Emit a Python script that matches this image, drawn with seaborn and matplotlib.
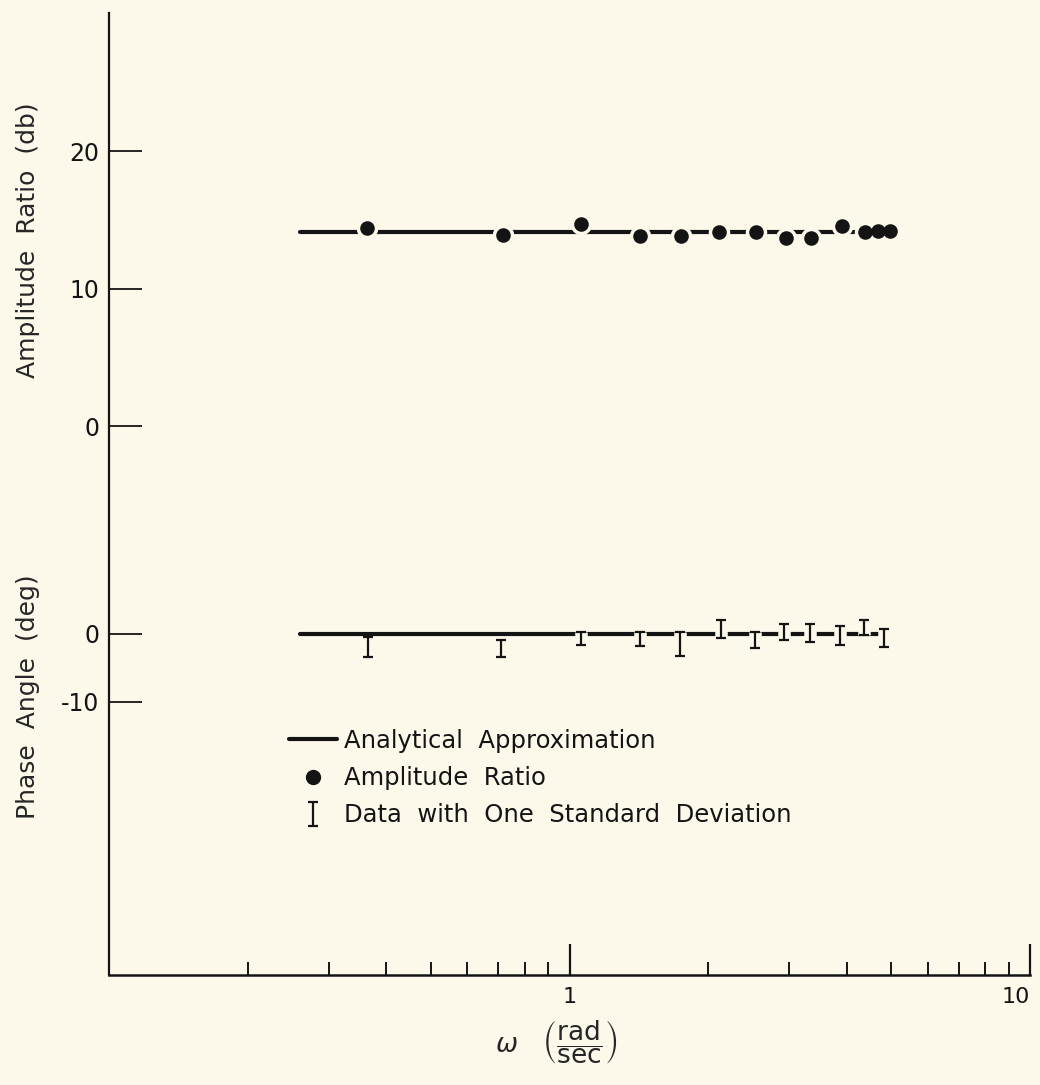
import numpy as np
import pandas as pd
import matplotlib
matplotlib.use("Agg")
import matplotlib.pyplot as plt
from matplotlib.lines import Line2D
from matplotlib.ticker import FixedLocator, FixedFormatter, NullFormatter
import seaborn as sns

# ---- measured frequency response -------------------------------------
amp_freq = [0.364, 0.716, 1.061, 1.425, 1.747, 2.112, 2.540, 2.949, 3.341,
            3.898, 4.372, 4.665, 4.977]
amp_db = [14.4, 13.9, 14.7, 13.8, 13.85, 14.1, 14.1, 13.65, 13.65,
          14.55, 14.1, 14.15, 14.15]

phase_freq = [0.365, 0.709, 1.061, 1.425, 1.739, 2.133, 2.527, 2.920, 3.324,
              3.860, 4.350, 4.830]
phase_deg = [-1.9, -2.1, -0.65, -0.7, -1.45, 0.75, -0.9, 0.3, 0.15,
             -0.2, 0.95, -0.6]
phase_sd = [1.47, 1.25, 0.95, 1.0, 1.75, 1.3, 1.2, 1.2, 1.3,
            1.4, 1.1, 1.3]

# analytical approximation (flat gain, zero phase)
approx_freq = [0.26, 4.8]
approx_db = [14.1, 14.1]
approx_deg = [0.0, 0.0]

x_major = [1, 10]
x_major_labels = ["1", "10"]
x_minor = [0.2, 0.3, 0.4, 0.5, 0.6, 0.7, 0.8, 0.9, 2, 3, 4, 5, 6, 7, 8, 9]
amp_ticks = [0, 10, 20]
amp_tick_labels = ["0", "10", "20"]
phase_ticks = [-10, 0]
phase_tick_labels = ["-10", "0"]

amp_df = pd.DataFrame({"freq": amp_freq, "db": amp_db})
approx_df = pd.DataFrame({"freq": approx_freq, "db": approx_db, "deg": approx_deg})

# ---- style -----------------------------------------------------------
BG = "#fcf9ea"
INK = "#141414"

sns.set_theme(style="ticks")
plt.rcParams["font.family"] = ["DejaVu Sans"]
plt.rcParams["mathtext.fontset"] = "dejavusans"
plt.rcParams["axes.edgecolor"] = INK
plt.rcParams["xtick.color"] = INK
plt.rcParams["ytick.color"] = INK
plt.rcParams["text.color"] = INK

fig = plt.figure(figsize=(10.4, 10.85), dpi=100, facecolor=BG)
ax = fig.add_axes([0.1048, 0.1014, 0.8856, 0.8866])
ax.set_facecolor(BG)
ax2 = ax.twinx()
ax2.patch.set_visible(False)

# ---- amplitude ratio -------------------------------------------------
sns.lineplot(data=approx_df, x="freq", y="db", ax=ax, color=INK,
             linewidth=3.0, zorder=2, legend=False)
# background halo so the curve breaks around each point
sns.scatterplot(data=amp_df, x="freq", y="db", ax=ax, color=BG, s=240,
                linewidth=0, zorder=3, legend=False)
sns.scatterplot(data=amp_df, x="freq", y="db", ax=ax, color=INK, s=110,
                linewidth=0, zorder=4, legend=False)

# ---- phase angle -----------------------------------------------------
sns.lineplot(data=approx_df, x="freq", y="deg", ax=ax2, color=INK,
             linewidth=3.0, zorder=2, legend=False)
# background strip behind each bar so the curve breaks where they cross
ax2.errorbar(phase_freq, phase_deg, yerr=phase_sd, fmt="none",
             ecolor=BG, elinewidth=9, capsize=0, zorder=3)
eb = ax2.errorbar(phase_freq, phase_deg, yerr=phase_sd, fmt="none",
                  ecolor=INK, elinewidth=1.6, capsize=3.8, capthick=1.6,
                  zorder=4)

# ---- axes ------------------------------------------------------------
ax.set_xscale("log")
ax.set_xlim(0.1, 10)
ax.set_ylim(-39.93, 30.04)
ax2.set_ylim(-50.15, 91.32)

ax.xaxis.set_major_locator(FixedLocator(x_major))
ax.xaxis.set_major_formatter(FixedFormatter(x_major_labels))
ax.xaxis.set_minor_locator(FixedLocator(x_minor))
ax.xaxis.set_minor_formatter(NullFormatter())

ax.yaxis.set_major_locator(FixedLocator(amp_ticks))
ax.yaxis.set_major_formatter(FixedFormatter(amp_tick_labels))
ax.yaxis.set_minor_locator(FixedLocator([]))

ax2.yaxis.tick_left()
ax2.yaxis.set_major_locator(FixedLocator(phase_ticks))
ax2.yaxis.set_major_formatter(FixedFormatter(phase_tick_labels))
ax2.yaxis.set_minor_locator(FixedLocator([]))

for a in (ax, ax2):
    for s in ("top", "right"):
        a.spines[s].set_visible(False)
ax2.spines["left"].set_visible(False)
ax2.spines["bottom"].set_visible(False)
ax.spines["left"].set_linewidth(1.6)
ax.spines["bottom"].set_linewidth(1.8)

ax.tick_params(axis="x", which="major", direction="in", length=22, width=1.6,
               labelsize=16, pad=9)
ax.tick_params(axis="x", which="minor", direction="in", length=9.5, width=1.4)
ax.tick_params(axis="y", which="major", direction="in", length=24, width=1.3,
               labelsize=17, pad=7)
ax2.tick_params(axis="y", which="major", direction="in", length=24, width=1.3,
                labelsize=17, pad=7, left=True, right=False,
                labelleft=True, labelright=False)

# keep the right-most decade label inside the figure
fig.canvas.draw()
ax.get_xticklabels()[-1].set_horizontalalignment("right")

ax.set_xlabel(r"$\omega\ \ \ \left(\dfrac{\mathrm{rad}}{\mathrm{sec}}\right)$",
              fontsize=19)
ax.xaxis.set_label_coords(0.486, -0.045)
ax.set_ylabel("Amplitude  Ratio  (db)", fontsize=18)
ax.yaxis.set_label_coords(-0.075, 0.764)
ax2.set_ylabel("Phase  Angle  (deg)", fontsize=18)
ax2.yaxis.set_label_position("left")
ax2.yaxis.set_label_coords(-0.075, 0.289)

# ---- legend ----------------------------------------------------------
handles = [
    Line2D([], [], color=INK, linewidth=3.0),
    Line2D([], [], color=INK, marker="o", markersize=10, linestyle="none"),
    eb,
]
labels = ["Analytical  Approximation", "Amplitude  Ratio",
          "Data  with  One  Standard  Deviation"]
ax.legend(handles, labels, loc="upper left", bbox_to_anchor=(0.195, 0.256),
          frameon=False, fontsize=17.5, handlelength=2.0, handletextpad=0.3,
          labelspacing=0.55, borderpad=0, borderaxespad=0)

fig.savefig("out.png", dpi=100, facecolor=BG)
